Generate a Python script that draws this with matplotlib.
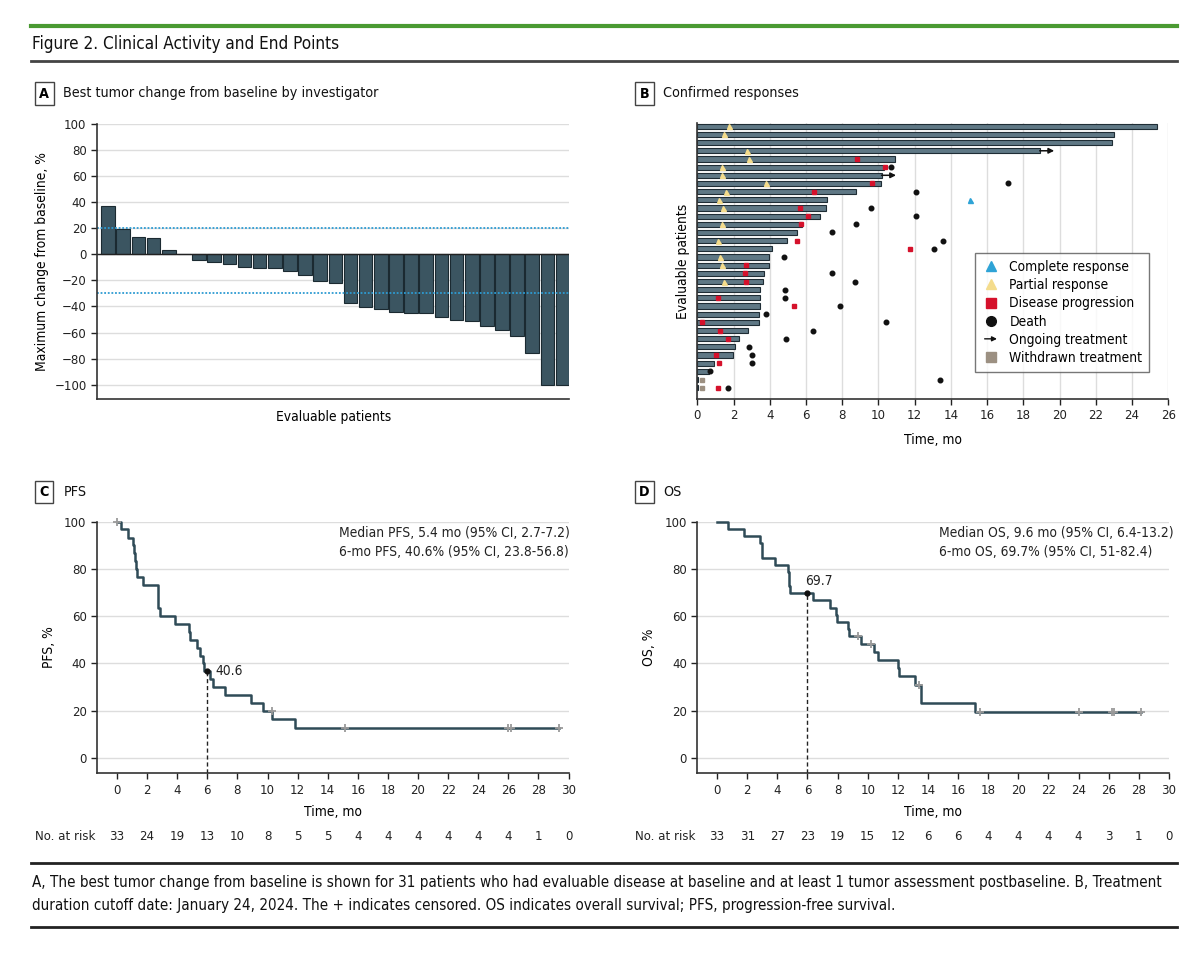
import numpy as np
import matplotlib
matplotlib.use("Agg")
import matplotlib.pyplot as plt
import matplotlib.font_manager as fm
from matplotlib.lines import Line2D
from matplotlib.patches import FancyArrowPatch
from matplotlib.legend_handler import HandlerBase

# ---------------- data ----------------
# A: best tumor change from baseline (31 patients)
tumor_change = [37.2, 19.5, 13.1, 12.3, 3.1, 0.5, -4.4, -6.2, -7.4, -9.5, -10.8, -10.8,
                -12.8, -16.2, -20.3, -21.8, -37.4, -40.5, -42.1, -44.1, -44.9, -45.1,
                -48.2, -50.5, -51.3, -55.1, -58.2, -62.8, -75.6, -100, -100]

# B: swimmer plot, one row per patient (top to bottom)
swim_dur = [25.35, 23.0, 22.87, 18.9, 10.93, 10.3, 10.17, 10.12, 8.76, 7.14, 7.1, 6.79,
            5.8, 5.52, 4.95, 4.12, 3.94, 3.94, 3.68, 3.6, 3.46, 3.46, 3.46, 3.42, 3.42,
            2.78, 2.32, 2.1, 1.97, 0.92, 0.63, 0.04, 0.04]
pr_rows = [1, 2, 4, 5, 6, 7, 8, 9, 10, 11, 13, 15, 17, 18, 20]
pr_time = [1.77, 1.47, 2.76, 2.85, 1.36, 1.36, 3.79, 1.6, 1.21, 1.4, 1.36, 1.14, 1.25, 1.34, 1.49]
cr_rows = [10]
cr_time = [15.08]
pd_rows = [5, 6, 8, 9, 11, 12, 13, 15, 16, 18, 19, 20, 22, 23, 25, 26, 27, 29, 30, 33]
pd_time = [8.83, 10.34, 9.64, 6.42, 5.67, 6.09, 5.74, 5.5, 11.74, 2.7, 2.65, 2.69, 1.14,
           5.32, 0.24, 1.27, 1.71, 1.01, 1.2, 1.14]
death_rows = [6, 8, 9, 11, 12, 13, 14, 15, 16, 17, 19, 20, 21, 22, 23, 24, 25, 26, 27,
              28, 29, 30, 31, 32, 33]
death_time = [10.7, 17.13, 12.05, 9.57, 12.05, 8.74, 7.43, 13.58, 13.04, 4.76, 7.43, 8.68,
              4.86, 4.82, 7.86, 3.79, 10.41, 6.36, 4.89, 2.87, 3.04, 3.02, 0.7, 13.41, 1.67]
wd_rows = [32, 33]
wd_time = [0.28, 0.28]
ongoing_rows = [4, 7]

# C: PFS Kaplan-Meier
pfs_t = [0, 0.25, 0.76, 1.05, 1.15, 1.2, 1.25, 1.3, 1.74, 2.7, 2.72, 2.75, 2.85, 3.83,
         4.79, 4.85, 5.31, 5.53, 5.72, 5.8, 6.19, 6.41, 7.2, 8.89, 9.68, 10.3, 11.84, 29.36]
pfs_s = [100, 96.7, 93.3, 90, 86.7, 83.3, 80, 76.7, 73.3, 70, 66.7, 63.3, 60, 56.7,
         53.3, 50, 46.7, 43.3, 40, 36.7, 33.3, 30, 26.7, 23.3, 20, 16.2, 12.4, 12.4]
pfs_cens = [0, 10.27, 15.13, 26.0, 26.2, 29.36]
pfs_risk = [33, 24, 19, 13, 10, 8, 5, 5, 4, 4, 4, 4, 4, 4, 1, 0]

# D: OS Kaplan-Meier
os_t = [0, 0.70, 1.79, 2.87, 2.95, 3.0, 3.81, 4.71, 4.75, 4.8, 4.85, 6.37, 7.48, 7.87,
        7.97, 8.69, 8.75, 9.56, 10.43, 10.67, 12.02, 12.1, 13.15, 13.54, 17.11, 28.12]
os_s = [100, 97.0, 93.9, 90.9, 87.9, 84.8, 81.8, 78.8, 75.8, 72.7, 69.7, 66.7, 63.6, 60.6,
        57.6, 54.5, 51.5, 48.3, 44.8, 41.3, 37.9, 34.5, 31.0, 23.3, 19.4, 19.4]
os_cens = [9.37, 10.21, 13.4, 17.45, 24.02, 26.2, 26.35, 28.12]
os_risk = [33, 31, 27, 23, 19, 15, 12, 6, 6, 4, 4, 4, 4, 3, 1, 0]

risk_ticks = list(range(0, 31, 2))

# ---------------- fonts ----------------
names = {f.name for f in fm.fontManager.ttflist}
cond = [f for f in fm.fontManager.ttflist if f.name == "DejaVu Sans" and "condensed" in str(f.stretch)]
if "Liberation Sans Narrow" in names:
    plt.rcParams["font.family"] = ["Liberation Sans Narrow", "DejaVu Sans"]
    k = 1.0
elif cond:
    plt.rcParams["font.family"] = ["DejaVu Sans"]
    plt.rcParams["font.stretch"] = "condensed"
    k = 0.9
else:
    plt.rcParams["font.family"] = ["Roboto", "DejaVu Sans"]
    k = 0.9

TICK = 10.5 * k
LAB = 11 * k
HEAD = 12 * k * 0.95

W, H = 1200, 963
fig = plt.figure(figsize=(W / 100, H / 100), dpi=100)


def box(l, t, r, b):
    return [l / W, 1 - b / H, (r - l) / W, (b - t) / H]


def fy(y):
    return 1 - y / H


def step_at(ts, ss, t):
    i = np.searchsorted(ts, t, side="right") - 1
    return np.array(ss)[i]


grid_c = "#dddddd"
dark = "#333333"

# header
fig.add_artist(Line2D([30.5 / W, 1177 / W], [fy(26), fy(26)], color="#4a9a32", lw=3))
fig.text(31.5 / W, fy(44), "Figure 2. Clinical Activity and End Points", fontsize=15 * k * 0.91,
         va="center", ha="left", color="#111")
fig.add_artist(Line2D([30.5 / W, 1177 / W], [fy(61.5), fy(61.5)], color="#444", lw=2))


def panel_label(x, y, letter, text):
    fig.text(x / W, fy(y), letter, fontsize=12 * k * 0.95, ha="center", va="center",
             fontweight="bold",
             bbox=dict(boxstyle="square,pad=0.3", fc="white", ec="#444", lw=1))
    fig.text((x + 19) / W, fy(y), text, fontsize=HEAD, ha="left", va="center", color="#111")


panel_label(44.3, 93.5, "A", "Best tumor change from baseline by investigator")
panel_label(644.5, 93.5, "B", "Confirmed responses")
panel_label(44.4, 492, "C", "PFS")
panel_label(644.5, 492, "D", "OS")


def style_axes(ax):
    for s in ["top", "right"]:
        ax.spines[s].set_visible(False)
    for s in ["left", "bottom"]:
        ax.spines[s].set_color(dark)
        ax.spines[s].set_linewidth(1.2)
    ax.tick_params(labelsize=TICK, colors="#222", length=4, width=1)


# ---------------- A: waterfall ----------------
axA = fig.add_axes(box(96.95, 124, 569.4, 399))
style_axes(axA)
xa = np.arange(len(tumor_change))
axA.set_axisbelow(True)
axA.yaxis.grid(True, color=grid_c, lw=1)
axA.bar(xa, tumor_change, width=0.9, color="#3b5561", edgecolor="#1b2a31", lw=0.8)
axA.axhline(20, color="#2d9bd2", lw=1.3, ls=(0, (1, 1)))
axA.axhline(-30, color="#2d9bd2", lw=1.3, ls=(0, (1, 1)))
axA.axhline(0, color="#222", lw=1)
axA.set_xlim(-0.74, 30.45)
axA.set_ylim(-111, 100)
axA.set_yticks(range(-100, 101, 20))
axA.set_xticks([])
axA.set_ylabel("Maximum change from baseline, %", fontsize=LAB)
axA.yaxis.set_label_coords(-0.102, 0.5)
axA.set_xlabel("Evaluable patients", fontsize=LAB)
axA.xaxis.set_label_coords(0.5, -0.04)

# ---------------- B: swimmer ----------------
axB = fig.add_axes(box(697.3, 123, 1168.3, 399))
style_axes(axB)
rows = np.arange(len(swim_dur))
axB.set_axisbelow(True)
axB.xaxis.grid(True, color=grid_c, lw=1)
axB.barh(rows, swim_dur, height=0.64, color="#5f7885", edgecolor="#1f2d35", lw=0.8)
cr_c, pr_c, pd_c, wd_c = "#2ea3d6", "#f4dc8c", "#d5112b", "#9c9082"
axB.plot(pr_time, np.array(pr_rows) - 1, ls="none", marker="^", ms=3.6, color=pr_c)
axB.plot(cr_time, np.array(cr_rows) - 1, ls="none", marker="^", ms=3.6, color=cr_c)
axB.plot(pd_time, np.array(pd_rows) - 1, ls="none", marker="s", ms=3.2, color=pd_c)
axB.plot(death_time, np.array(death_rows) - 1, ls="none", marker="o", ms=3.3, color="#111")
axB.plot(wd_time, np.array(wd_rows) - 1, ls="none", marker="s", ms=3.2, color=wd_c)
for r in ongoing_rows:
    end = swim_dur[r - 1]
    axB.annotate("", xy=(end + 0.8, r - 1), xytext=(end, r - 1),
                 arrowprops=dict(arrowstyle="-|>", color="#111", lw=1.1, mutation_scale=8,
                                 shrinkA=0, shrinkB=0))
axB.set_xlim(0, 26)
axB.set_ylim(33.38, -0.4)
axB.set_xticks(range(0, 27, 2))
axB.set_yticks([])
axB.set_xlabel("Time, mo", fontsize=LAB)
axB.xaxis.set_label_coords(0.5, -0.122)
axB.set_ylabel("Evaluable patients", fontsize=LAB)
axB.yaxis.set_label_coords(-0.016, 0.5)


class ArrowHandler(HandlerBase):
    def create_artists(self, legend, orig_handle, xdescent, ydescent, width, height,
                       fontsize, trans):
        y = height / 2 - ydescent
        a = FancyArrowPatch((-xdescent, y), (-xdescent + width, y), arrowstyle="-|>",
                            mutation_scale=7, color="#111", lw=1, transform=trans)
        return [a]


arrow_h = Line2D([], [])
handles = [
    Line2D([], [], ls="none", marker="^", ms=7, color=cr_c),
    Line2D([], [], ls="none", marker="^", ms=7, color=pr_c),
    Line2D([], [], ls="none", marker="s", ms=7, color=pd_c),
    Line2D([], [], ls="none", marker="o", ms=7, color="#111"),
    arrow_h,
    Line2D([], [], ls="none", marker="s", ms=7, color=wd_c),
]
labels = ["Complete response", "Partial response", "Disease progression", "Death",
          "Ongoing treatment", "Withdrawn treatment"]
leg = axB.legend(handles, labels, loc="upper left", bbox_to_anchor=(0.5896, 0.528),
                 borderaxespad=0, fontsize=LAB, frameon=True, fancybox=False,
                 edgecolor="#555", handlelength=1.3, handletextpad=0.7,
                 labelspacing=0.3, borderpad=0.5, handler_map={arrow_h: ArrowHandler()})
leg.get_frame().set_linewidth(1)


# ---------------- C / D: KM ----------------
def km_panel(rect, x0, ts, ss, cens, risk, ylab, ylab_x, at6_text, txt_pos, stats, risk_x):
    ax = fig.add_axes(box(*rect))
    style_axes(ax)
    ax.set_axisbelow(True)
    ax.yaxis.grid(True, color=grid_c, lw=1)
    ax.step(ts, ss, where="post", color="#2f4b57", lw=1.8, clip_on=False, zorder=3)
    cy = [step_at(ts, ss, c) for c in cens]
    ax.plot(cens, cy, ls="none", marker="+", ms=6, mew=1.3, color="#9a9a9a", zorder=4,
            clip_on=False)
    s6 = step_at(ts, ss, 6)
    ax.plot([6, 6], [-6.6, s6], color="#222", lw=1, ls=(0, (3, 2)), zorder=2)
    ax.plot([6], [s6], marker="o", ms=3.5, color="#111", zorder=5)
    ax.text(at6_text[0], at6_text[1], at6_text[2], fontsize=LAB, va="center",
            ha="left", color="#222")
    ax.text(txt_pos, 95.3, stats[0], fontsize=LAB, va="center", ha="left", color="#222")
    ax.text(txt_pos, 87.3, stats[1], fontsize=LAB, va="center", ha="left", color="#222")
    ax.set_xlim(x0, 30)
    ax.set_ylim(-6.6, 100)
    ax.set_xticks(risk_ticks)
    ax.set_yticks(range(0, 101, 20))
    ax.set_xlabel("Time, mo", fontsize=LAB)
    ax.xaxis.set_label_coords(0.5, -0.126)
    ax.set_ylabel(ylab, fontsize=LAB)
    ax.yaxis.set_label_coords(ylab_x, 0.5)
    tr = ax.get_xaxis_transform()
    for t, n in zip(risk_ticks, risk):
        ax.text(t, -0.25, str(n), transform=tr, fontsize=TICK, ha="center", va="center",
                color="#222")
    fig.text(risk_x / W, fy(836), "No. at risk", fontsize=TICK, ha="left", va="center",
             color="#222")
    return ax


km_panel((96.95, 521.7, 568.6, 773.3), -1.33, pfs_t, pfs_s, pfs_cens, pfs_risk, "PFS, %",
         -0.086, (6.55, 36.7, "40.6"), 14.74,
         ("Median PFS, 5.4 mo (95% CI, 2.7-7.2)", "6-mo PFS, 40.6% (95% CI, 23.8-56.8)"), 34.8)
km_panel((697.4, 521.7, 1168.9, 773.3), -1.31, os_t, os_s, os_cens, os_risk, "OS, %",
         -0.0887, (5.85, 74.9, "69.7"), 14.75,
         ("Median OS, 9.6 mo (95% CI, 6.4-13.2)", "6-mo OS, 69.7% (95% CI, 51-82.4)"), 634.5)

# ---------------- footer ----------------
FOOT = 11.5 * k * 1.05
fig.add_artist(Line2D([30.5 / W, 1177 / W], [fy(863), fy(863)], color="#222", lw=2))
fig.text(32 / W, fy(883), "A, The best tumor change from baseline is shown for 31 patients who had "
         "evaluable disease at baseline and at least 1 tumor assessment postbaseline. B, Treatment",
         fontsize=FOOT, ha="left", va="center", color="#111")
fig.text(32 / W, fy(905), "duration cutoff date: January 24, 2024. The + indicates censored. "
         "OS indicates overall survival; PFS, progression-free survival.",
         fontsize=FOOT, ha="left", va="center", color="#111")
fig.add_artist(Line2D([30.5 / W, 1177 / W], [fy(927), fy(927)], color="#222", lw=2))

fig.savefig("out.png", dpi=100)
